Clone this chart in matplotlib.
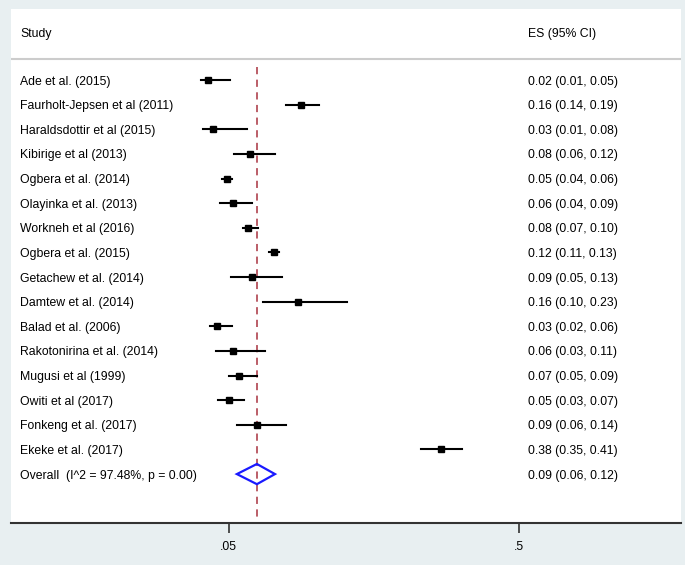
import matplotlib
matplotlib.use("Agg")
import matplotlib.pyplot as plt
from matplotlib.patches import Polygon
import matplotlib.transforms as mtransforms

plt.rcParams['font.family'] = ['Liberation Sans', 'DejaVu Sans']

studies = ["Ade et al. (2015)", "Faurholt-Jepsen et al (2011)", "Haraldsdottir et al (2015)",
           "Kibirige et al (2013)", "Ogbera et al. (2014)", "Olayinka et al. (2013)",
           "Workneh et al (2016)", "Ogbera et al. (2015)", "Getachew et al. (2014)",
           "Damtew et al. (2014)", "Balad et al. (2006)", "Rakotonirina et al. (2014)",
           "Mugusi et al (1999)", "Owiti et al (2017)", "Fonkeng et al. (2017)", "Ekeke et al. (2017)"]
es = [0.018, 0.162, 0.026, 0.083, 0.048, 0.057, 0.080, 0.120, 0.086, 0.158, 0.032, 0.057, 0.066, 0.051, 0.094, 0.379]
lo = [0.008, 0.139, 0.010, 0.058, 0.040, 0.037, 0.072, 0.113, 0.054, 0.103, 0.021, 0.031, 0.050, 0.034, 0.063, 0.348]
hi = [0.052, 0.190, 0.079, 0.122, 0.056, 0.086, 0.096, 0.128, 0.133, 0.233, 0.056, 0.106, 0.094, 0.074, 0.139, 0.411]
overall_label = "Overall  (I^2 = 97.48%, p = 0.00)"
overall_es, overall_lo, overall_hi = 0.094, 0.063, 0.122
xticks = [0.05, 0.5]
xticklabels = [".05", ".5"]

W, H = 685, 565
fig = plt.figure(figsize=(W / 100, H / 100), dpi=100)
fig.patch.set_facecolor("#e8eff1")

left_px, right_px, top_px, bot_px = 10.5, 681, 9, 523
ax = fig.add_axes([left_px / W, 1 - bot_px / H, (right_px - left_px) / W, (bot_px - top_px) / H])
ax.set_facecolor("white")

# x mapping: .05 -> 228.5 px, .5 -> 519 px
slope = (519 - 228.5) / 0.45
ax.set_xlim(0.05 - (228.5 - left_px) / slope, 0.5 + (right_px - 519) / slope)
row_h = 24.63
ax.set_ylim((bot_px - 80) / row_h, (top_px - 80) / row_h)

for s in ["top", "left", "right"]:
    ax.spines[s].set_visible(False)
ax.spines["bottom"].set_color("#333333")
ax.spines["bottom"].set_linewidth(1.5)
ax.set_yticks([])
ax.set_xticks(xticks)
ax.set_xticklabels(xticklabels, fontsize=8.8)
ax.tick_params(axis="x", direction="out", length=7, width=1.2, color="#333333", pad=6)

# header line
ax.axhline((59 - 80) / row_h, color="#cccccc", lw=1.5)

# dashed overall line
ax.plot([overall_es, overall_es], [(67 - 80) / row_h, (bot_px - 80) / row_h],
        color="#b5505c", lw=1.3, ls=(0, (4, 3)), zorder=1)

tx = mtransforms.blended_transform_factory(ax.transAxes, ax.transData)
x_study = (20.5 - left_px) / (right_px - left_px)
x_es = (527.5 - left_px) / (right_px - left_px)
fs = 8.8

ax.text(x_study, (33 - 80) / row_h, "Study", transform=tx, va="center_baseline", ha="left", fontsize=fs)
ax.text(x_es, (33 - 80) / row_h, "ES (95% CI)", transform=tx, va="center_baseline", ha="left", fontsize=fs)

for i, (name, e, l, h) in enumerate(zip(studies, es, lo, hi)):
    ax.plot([l, h], [i, i], color="black", lw=1.5, zorder=3)
    ax.plot([e], [i], marker="s", color="black", markersize=4.8, zorder=4)
    ax.text(x_study, i, name, transform=tx, va="center_baseline", ha="left", fontsize=fs)
    ax.text(x_es, i, f"{e:.2f} ({l:.2f}, {h:.2f})", transform=tx, va="center_baseline", ha="left", fontsize=fs)

n = len(studies)
dh = 0.41
diamond = Polygon([[overall_lo, n], [overall_es, n - dh], [overall_hi, n], [overall_es, n + dh]],
                  closed=True, fill=False, edgecolor="#1a1aff", lw=1.6, zorder=5)
ax.add_patch(diamond)
ax.text(x_study, n, overall_label, transform=tx, va="center_baseline", ha="left", fontsize=fs)
ax.text(x_es, n, f"{overall_es:.2f} ({overall_lo:.2f}, {overall_hi:.2f})", transform=tx,
        va="center_baseline", ha="left", fontsize=fs)

fig.savefig("out.png", dpi=100, facecolor=fig.get_facecolor())
